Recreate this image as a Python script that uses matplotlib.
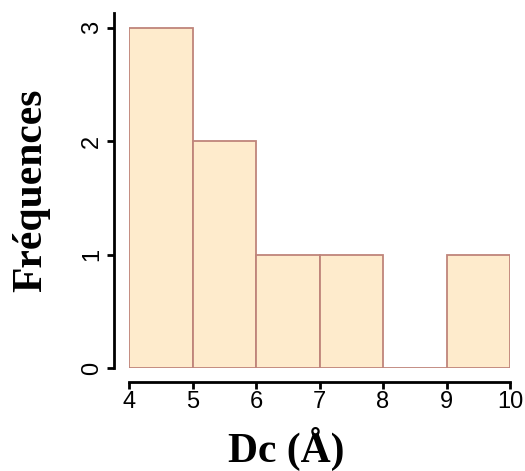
import matplotlib
matplotlib.use("Agg")
import matplotlib.pyplot as plt

bin_edges = [4, 5, 6, 7, 8, 9, 10]
counts = [3, 2, 1, 1, 0, 1]
x_ticks = [4, 5, 6, 7, 8, 9, 10]
y_ticks = [0, 1, 2, 3]
xlabel = "Dc (Å)"
ylabel = "Fréquences"

W, H = 525, 471
PX = 72 / 100  # points per pixel
fig = plt.figure(figsize=(W / 100, H / 100), dpi=100)
ax = fig.add_axes([129 / W, (H - 368) / H, (510 - 129) / W, (368 - 13) / H])

lefts = bin_edges[:-1]
widths = [b - a for a, b in zip(bin_edges[:-1], bin_edges[1:])]
ax.bar(lefts, counts, width=widths, align="edge", color="#FEEBCC",
       edgecolor="#BF857B", linewidth=1.3, zorder=2)

ax.set_xlim(4, 10)
ax.set_ylim(0, 3.13)
for s in ["top", "right"]:
    ax.spines[s].set_visible(False)
ax.spines["left"].set_position(("outward", 15 * PX))
ax.spines["bottom"].set_position(("outward", 14 * PX))
ax.spines["left"].set_linewidth(2.0)
ax.spines["bottom"].set_linewidth(2.0)
ax.spines["bottom"].set_bounds(4, 10)

ax.set_xticks(x_ticks)
ax.set_yticks(y_ticks)
ax.tick_params(axis="both", length=7 * PX, width=2.0, direction="out",
               labelsize=17)
ax.tick_params(axis="x", pad=1.5)
ax.tick_params(axis="y", pad=3)
for lab in ax.get_xticklabels() + ax.get_yticklabels():
    lab.set_family("Liberation Sans")
for lab in ax.get_yticklabels():
    lab.set_rotation(90)
    lab.set_va("center")

fig.text(286 / W, 1 - 462 / H, xlabel, ha="center", va="baseline",
         family="Liberation Serif", weight="bold", fontsize=30)
fig.text(31 / W, 1 - 190 / H, ylabel, ha="center", va="center", rotation=90,
         family="Liberation Serif", weight="bold", fontsize=30)

fig.savefig("out.png", dpi=100)
